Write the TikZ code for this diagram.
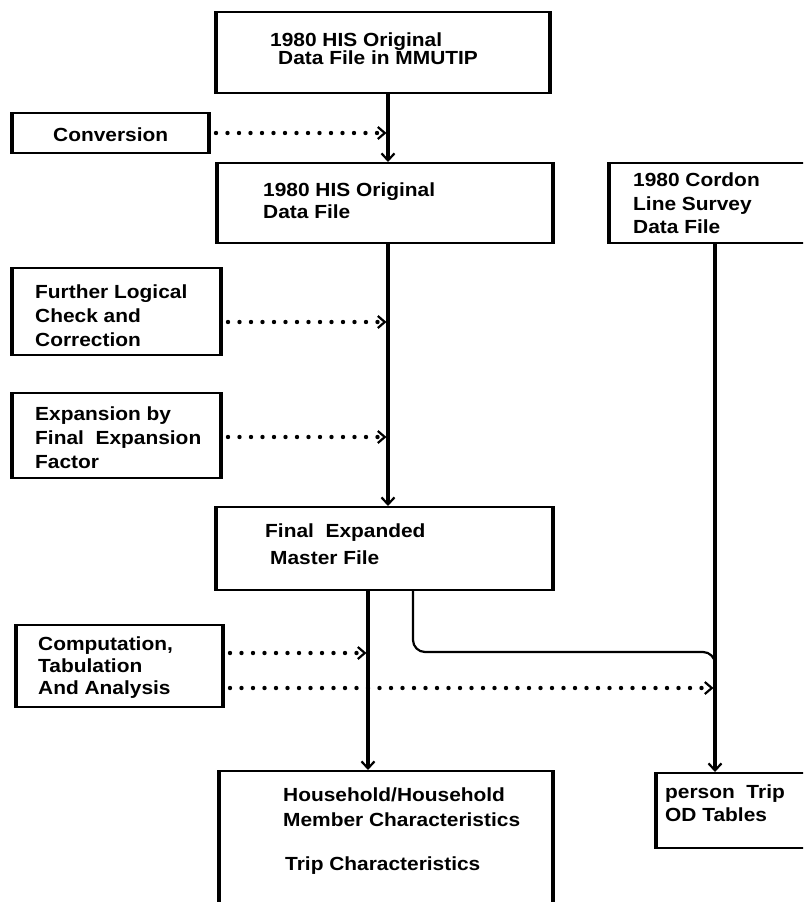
\documentclass[tikz,border=0pt]{standalone}
\usepackage{fontspec}
\setmainfont{Liberation Sans}[FakeStretch=1.1]
\usetikzlibrary{arrows.meta}
\begin{document}
\begin{tikzpicture}[x=1pt,y=-1pt,
  box/.style={draw, line width=2pt, inner sep=0pt},
  side/.style={line width=3.4pt},
  lbl/.style={anchor=north west, inner sep=0pt, align=left,
              font=\bfseries\fontsize{19}{#1}\selectfont},
  lbl/.default=23,
  flow/.style={line width=3.6pt,
               -{Straight Barb[length=7pt,width=13pt,line width=2.2pt]}},
  branch/.style={line width=2.2pt, rounded corners=12pt},
  dots/.style={line width=4.4pt, line cap=round, dash pattern=on 0pt off 11.5pt,
               shorten <=7pt, shorten >=1.5pt,
               -{Straight Barb[length=7pt,width=12pt,line width=2.2pt]}}
]
\fill[white] (0,0) rectangle (803,902);
\useasboundingbox (0,0) rectangle (803,902);
\clip (0,0) rectangle (803,902);

% columns of the vertical flow lines
\coordinate (mx) at (388,0);
\coordinate (lx) at (368,0);
\coordinate (rx) at (413,0);
\coordinate (cx) at (715,0);

% boxes
\node[box, minimum width=332pt, minimum height=81pt] (top)    at (383,52.5)  {};
\node[box, minimum width=195pt, minimum height=40pt] (conv)   at (110.5,133) {};
\node[box, minimum width=334pt, minimum height=80pt] (his)    at (385,203)   {};
\node[box, minimum width=220pt, minimum height=80pt] (cordon) at (720,203)   {};
\node[box, minimum width=207pt, minimum height=87pt] (check)  at (116.5,311.5) {};
\node[box, minimum width=207pt, minimum height=85pt] (expand) at (116.5,435.5) {};
\node[box, minimum width=335pt, minimum height=83pt] (final)  at (384.5,548.5) {};
\node[box, minimum width=205pt, minimum height=82pt] (comp)   at (119.5,666) {};
\node[box, minimum width=332pt, minimum height=159pt] (house) at (386,850.5) {};
\node[box, minimum width=173pt, minimum height=75pt] (person) at (743.5,810.5) {};

% heavier side edges of every box
\foreach \b in {top,conv,his,cordon,check,expand,final,comp,house,person}
  \draw[side] (\b.north west) -- (\b.south west) (\b.north east) -- (\b.south east);

% box texts
\node[lbl=18]   (topt)    at (270,33)  {1980 HIS Original\\\hspace*{8pt}Data File in MMUTIP};
\node[lbl]      (convt)   at (53,128)  {Conversion};
\node[lbl=21.5] (hist)    at (263,183) {1980 HIS Original\\Data File};
\node[lbl=23.5] (cordt)   at (633,173) {1980 Cordon\\Line Survey\\Data File};
\node[lbl=24]   (checkt)  at (35,285)  {Further Logical\\Check and\\Correction};
\node[lbl=24]   (expandt) at (35,407)  {Expansion by\\Final\ \ Expansion\\Factor};
\node[lbl=26.5] (finalt)  at (265,524) {Final\ \ Expanded\\\hspace*{5pt}Master File};
\node[lbl=22]   (compt)   at (38,637)  {Computation,\\Tabulation\\And Analysis};
\node[lbl=25]   (houset)  at (283,788) {Household/Household\\Member Characteristics\\[19pt]\hspace*{2pt}Trip Characteristics};
\node[lbl=22.5] (persont) at (665,785) {person\ \ Trip\\OD Tables};

% main flow
\draw[flow] (top.south -| mx) -- (his.north -| mx);
\draw[flow] (his.south -| mx) -- (final.north -| mx);
\draw[flow] (final.south -| lx) -- (house.north -| lx);
\draw[flow] (cordon.south -| cx) -- (person.north -| cx);

% branch of the expanded file joining the cordon line
\coordinate (bend) at (715,652);
\draw[branch] (final.south -| rx) |- (bend) -- ++(0,22);

% processing steps
\coordinate (y2) at (0,322);
\coordinate (y3) at (0,437);
\coordinate (y4) at (0,653);
\coordinate (y5) at (0,688);
\draw[dots] (conv.east) -- (conv.east -| mx);
\draw[dots] (check.east |- y2) -- (mx |- y2);
\draw[dots] (expand.east |- y3) -- (mx |- y3);
\draw[dots] (comp.east |- y4) -- (lx |- y4);
\draw[dots] (comp.east |- y5) -- (cx |- y5);
\end{tikzpicture}
\end{document}
